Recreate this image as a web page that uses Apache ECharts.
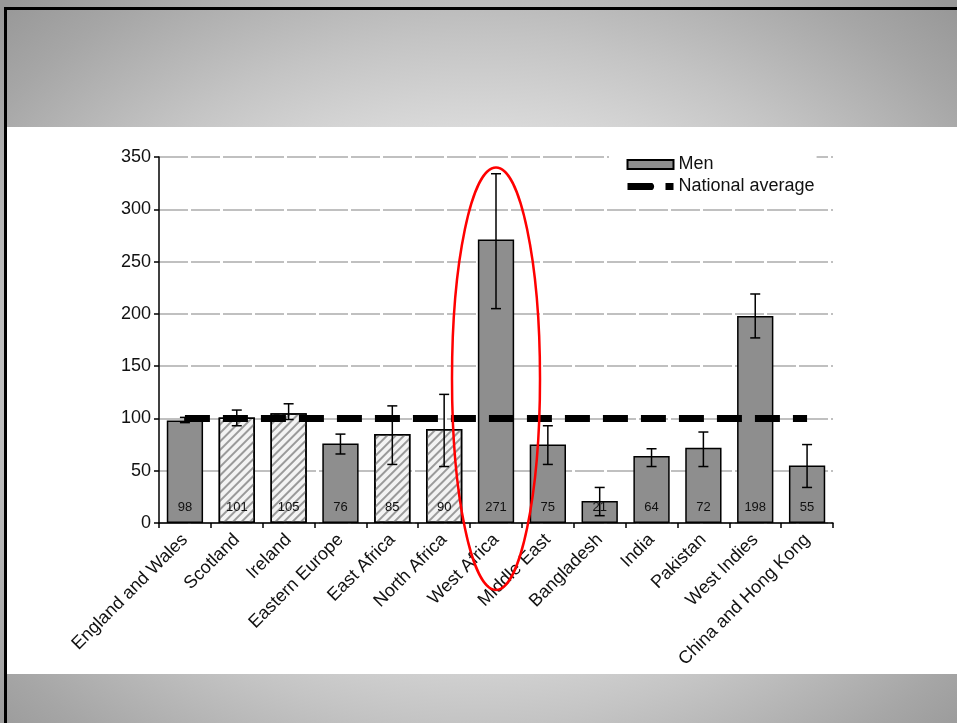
<!DOCTYPE html>
<html>
<head>
<meta charset="utf-8">
<title>Men by country of birth</title>
<script src="https://cdn.jsdelivr.net/npm/echarts@6/dist/echarts.min.js"></script>
<style>
  html, body {
    margin: 0;
    padding: 0;
    width: 957px;
    height: 723px;
    overflow: hidden;
  }
  .slide {
    position: absolute;
    left: 0;
    top: 0;
    width: 957px;
    height: 723px;
    background: radial-gradient(680px 520px at 478px 380px, #e6e6e6 0%, #dedede 45%, #c4c4c4 66%, #a6a6a6 88%, #989898 100%);
  }
  .frame-top {
    position: absolute;
    left: 4px;
    right: 0;
    top: 7px;
    height: 3px;
    background: #000;
  }
  .frame-left {
    position: absolute;
    left: 4px;
    top: 7px;
    bottom: 0;
    width: 3px;
    background: #000;
  }
  #chart {
    position: absolute;
    left: 7px;
    top: 127px;
    width: 950px;
    height: 547px;
    background: #fff;
  }
</style>
</head>
<body>
<div class="slide"></div>
<div class="frame-top"></div>
<div class="frame-left"></div>
<div id="chart"></div>
<script>
// categories and values
const categories = ['England and Wales', 'Scotland', 'Ireland', 'Eastern Europe', 'East Africa',
  'North Africa', 'West Africa', 'Middle East', 'Bangladesh', 'India', 'Pakistan',
  'West Indies', 'China and Hong Kong'];
const menValues = [98, 101, 105, 76, 85, 90, 271, 75, 21, 64, 72, 198, 55];
const errLow = [96, 93, 99, 66, 56, 54, 205, 56, 7, 54, 54, 177, 34];
const errHigh = [101, 108, 114, 85, 112, 123, 334, 93, 34, 71, 87, 219, 75];
// hatched bars (not significant)
const hatched = [false, true, true, false, true, true, false, false, false, false, false, false, false];
const nationalAverage = [100, 100, 100, 100, 100, 100, 100, 100, 100, 100, 100, 100, 100];
const yTicks = { min: 0, max: 350, interval: 50 };

const FONT = '"Liberation Sans", Arial, sans-serif';

const chart = echarts.init(document.getElementById('chart'));

const barData = menValues.map((v, i) => {
  if (!hatched[i]) return v;
  return {
    value: v,
    itemStyle: {
      color: '#f3f3f3',
      decal: {
        symbol: 'rect',
        dashArrayX: [1, 0],
        dashArrayY: [1.4, 3.6],
        rotation: -Math.PI / 4,
        color: '#9a9a9a'
      }
    }
  };
});

const errData = errLow.map((lo, i) => [i, lo, errHigh[i]]);

const option = {
  animation: false,
  textStyle: { fontFamily: FONT },
  grid: {
    left: 152,
    right: 124,
    top: 30,
    bottom: 151
  },
  legend: {
    orient: 'vertical',
    left: 602,
    top: 22,
    padding: [6, 2, 6, 15],
    backgroundColor: '#fff',
    itemWidth: 46,
    itemHeight: 9,
    itemGap: 3,
    textStyle: { fontSize: 18, color: '#111', fontFamily: FONT, lineHeight: 19 },
    data: [
      { name: 'Men', icon: 'rect' },
      { name: 'National average', lineStyle: { width: 7, cap: 'butt' } }
    ]
  },
  xAxis: {
    type: 'category',
    data: categories,
    axisLine: { lineStyle: { color: '#000', width: 1.5 } },
    axisTick: { show: true, length: 5, lineStyle: { color: '#000', width: 1.5 } },
    axisLabel: {
      interval: 0,
      rotate: 45,
      margin: 14,
      fontSize: 18,
      color: '#111',
      fontFamily: FONT
    }
  },
  yAxis: {
    type: 'value',
    min: yTicks.min,
    max: yTicks.max,
    interval: yTicks.interval,
    axisLine: { show: true, lineStyle: { color: '#000', width: 1.5 } },
    axisTick: { show: true, length: 5, lineStyle: { color: '#000', width: 1.5 } },
    axisLabel: { fontSize: 18, color: '#111', margin: 8, fontFamily: FONT },
    splitLine: {
      show: true,
      lineStyle: { color: '#c0c0c0', width: 2, type: [29, 3] }
    }
  },
  series: [
    {
      name: 'Men',
      type: 'bar',
      data: barData,
      barWidth: '70%',
      itemStyle: {
        color: '#8e8e8e',
        borderColor: '#000',
        borderWidth: 1.5
      },
      label: {
        show: true,
        position: 'insideBottom',
        distance: 9,
        fontSize: 13,
        color: '#111',
        fontFamily: FONT
      },
      z: 2
    },
    {
      name: 'Men error',
      type: 'custom',
      data: errData,
      z: 3,
      renderItem: function (params, api) {
        const lo = api.coord([api.value(0), api.value(1)]);
        const hi = api.coord([api.value(0), api.value(2)]);
        const cap = 5;
        const style = { stroke: '#000', lineWidth: 1.5 };
        return {
          type: 'group',
          children: [
            { type: 'line', shape: { x1: lo[0], y1: lo[1], x2: hi[0], y2: hi[1] }, style: style },
            { type: 'line', shape: { x1: lo[0] - cap, y1: lo[1], x2: lo[0] + cap, y2: lo[1] }, style: style },
            { type: 'line', shape: { x1: hi[0] - cap, y1: hi[1], x2: hi[0] + cap, y2: hi[1] }, style: style }
          ]
        };
      }
    },
    {
      name: 'National average',
      type: 'line',
      data: nationalAverage,
      symbol: 'none',
      lineStyle: { color: '#000', width: 7, type: [25, 13], cap: 'butt' },
      itemStyle: { color: '#000' },
      z: 4
    }
  ]
};

chart.setOption(option);

// red ellipse highlighting West Africa
const highlightIndex = 6;
const ellipseTopValue = 340;
const ellipseBottomValue = -64;
const ellTop = chart.convertToPixel({ gridIndex: 0 }, [highlightIndex, ellipseTopValue]);
const ellBottom = chart.convertToPixel({ gridIndex: 0 }, [highlightIndex, ellipseBottomValue]);
chart.setOption({
  graphic: [{
    type: 'ellipse',
    z: 100,
    shape: {
      cx: ellTop[0],
      cy: (ellTop[1] + ellBottom[1]) / 2,
      rx: 44,
      ry: (ellBottom[1] - ellTop[1]) / 2
    },
    style: { fill: null, stroke: '#ff0000', lineWidth: 2.5 }
  }]
});

window.addEventListener('resize', function () {
  chart.resize();
});
</script>
</body>
</html>
